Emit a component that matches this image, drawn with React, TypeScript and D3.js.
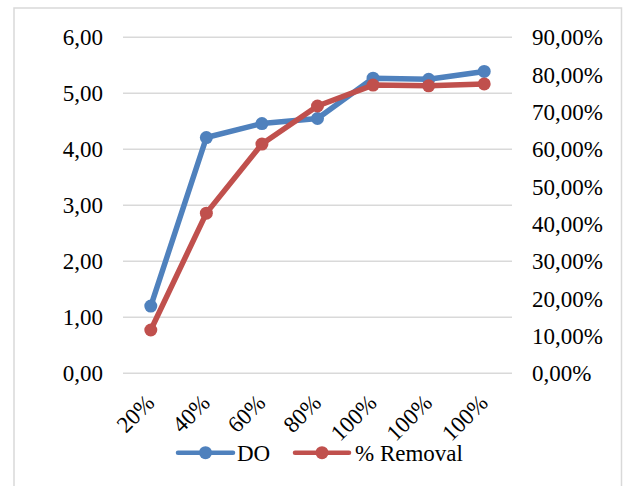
import React from "react";
import * as d3 from "d3";

// Aeration level per run (three runs at full level)
const categories = ["20%", "40%", "60%", "80%", "100%", "100%", "100%"];
// Dissolved oxygen (mg/L)
const doValues = [1.2, 4.21, 4.46, 4.55, 5.27, 5.25, 5.39];
// Removal efficiency (fraction)
const removalValues = [0.116, 0.429, 0.614, 0.716, 0.772, 0.77, 0.775];

const leftTicks = [0, 1, 2, 3, 4, 5, 6];
const rightTicks = [0, 0.1, 0.2, 0.3, 0.4, 0.5, 0.6, 0.7, 0.8, 0.9];

const W = 624;
const H = 486;
const plot = { left: 123, right: 512, top: 37.3, bottom: 373.3 };

const BLUE = "#4F81BD";
const RED = "#C0504D";
const GRID = "#d9d9d9";
const FONT = "'Liberation Serif', 'Times New Roman', serif";
const FS = 23;

const locale = d3.formatLocale({
  decimal: ",",
  thousands: ".",
  grouping: [3],
  currency: ["", ""],
});
const fmtLeft = locale.format(".2f");
const fmtRight = locale.format(".2%");

export default function App() {
  const idx = categories.map((_, i) => i);
  const x = d3
    .scaleBand<number>()
    .domain(idx)
    .range([plot.left, plot.right])
    .padding(0);
  const cx = (i: number) => (x(i) as number) + x.bandwidth() / 2;
  const yL = d3.scaleLinear().domain([0, 6]).range([plot.bottom, plot.top]);
  const yR = d3.scaleLinear().domain([0, 0.9]).range([plot.bottom, plot.top]);

  const lineDO = d3
    .line<number>()
    .x((_, i) => cx(i))
    .y((d) => yL(d));
  const lineRem = d3
    .line<number>()
    .x((_, i) => cx(i))
    .y((d) => yR(d));

  const legendY = 452.7;

  return (
    <svg
      width={W}
      height={H}
      style={{ position: "absolute", left: 0, top: 0, display: "block", background: "#fff" }}
      fontFamily={FONT}
    >
      <rect x={0} y={0} width={W} height={H} fill="#fff" />
      <rect x={14} y={8} width={607.5} height={490} fill="none" stroke={GRID} strokeWidth={1.5} />

      {/* gridlines */}
      {leftTicks.map((t) => (
        <line
          key={"g" + t}
          x1={plot.left}
          x2={plot.right}
          y1={yL(t)}
          y2={yL(t)}
          stroke={GRID}
          strokeWidth={1.5}
        />
      ))}

      {/* left axis labels */}
      {leftTicks.map((t) => (
        <text key={"l" + t} x={103} y={yL(t)} dy="0.35em" textAnchor="end" fontSize={FS} fill="#000">
          {fmtLeft(t)}
        </text>
      ))}

      {/* right axis labels */}
      {rightTicks.map((t) => (
        <text key={"r" + t} x={532} y={yR(t)} dy="0.35em" textAnchor="start" fontSize={FS} fill="#000">
          {fmtRight(t)}
        </text>
      ))}

      {/* category labels */}
      {categories.map((c, i) => (
        <text
          key={"c" + i}
          transform={`translate(${cx(i) + 5},${plot.bottom + 31}) rotate(-45)`}
          textAnchor="end"
          fontSize={FS}
          fill="#000"
        >
          {c}
        </text>
      ))}

      {/* series */}
      <path d={lineDO(doValues) || ""} fill="none" stroke={BLUE} strokeWidth={5.5} strokeLinejoin="round" />
      {doValues.map((v, i) => (
        <circle key={"d" + i} cx={cx(i)} cy={yL(v)} r={6.5} fill={BLUE} />
      ))}
      <path d={lineRem(removalValues) || ""} fill="none" stroke={RED} strokeWidth={5.5} strokeLinejoin="round" />
      {removalValues.map((v, i) => (
        <circle key={"m" + i} cx={cx(i)} cy={yR(v)} r={6.5} fill={RED} />
      ))}

      {/* legend */}
      <line x1={178} x2={233} y1={legendY} y2={legendY} stroke={BLUE} strokeWidth={4.5} strokeLinecap="round" />
      <circle cx={205.5} cy={legendY} r={6.5} fill={BLUE} />
      <text x={237} y={legendY} dy="0.35em" fontSize={FS} fill="#000">
        DO
      </text>
      <line x1={295} x2={349} y1={legendY} y2={legendY} stroke={RED} strokeWidth={4.5} strokeLinecap="round" />
      <circle cx={322} cy={legendY} r={6.5} fill={RED} />
      <text x={355} y={legendY} dy="0.35em" fontSize={FS} fill="#000">
        % Removal
      </text>
    </svg>
  );
}
